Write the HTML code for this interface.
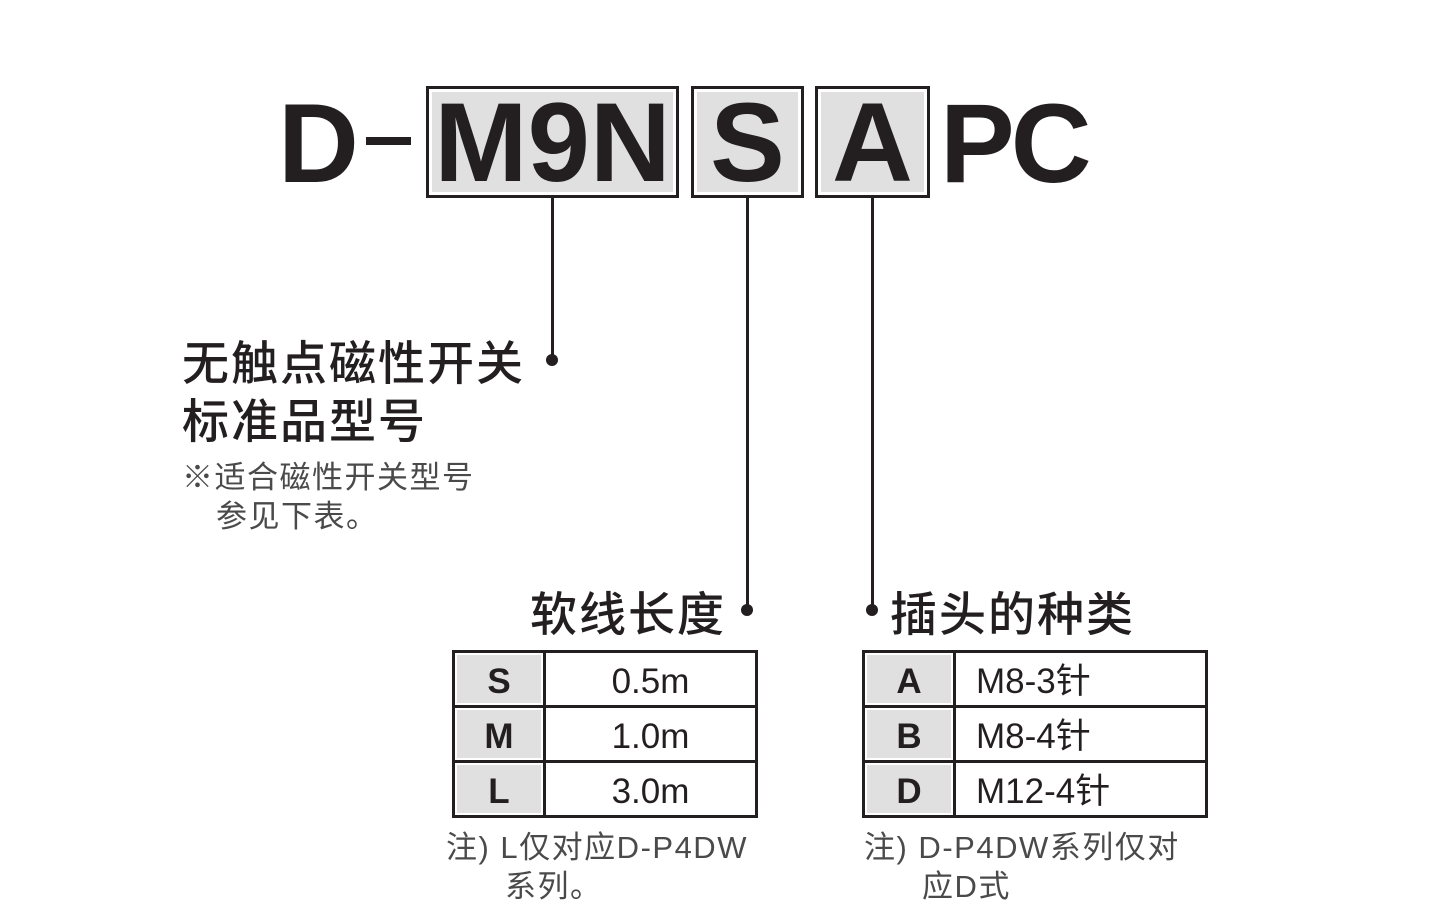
<!DOCTYPE html>
<html><head><meta charset="utf-8"><style>
body{margin:0;width:1440px;height:919px;background:#fff;position:relative;overflow:hidden;font-family:"Liberation Sans","Noto Sans CJK SC",sans-serif;color:#231f20}
.a{position:absolute;white-space:nowrap}
.big{font-weight:bold;font-size:112px;line-height:112px}
.box{position:absolute;border:3px solid #231f20;background:#e0e0e0;box-shadow:inset 0 0 0 3px #fff;box-sizing:border-box;text-align:center}
.vl{position:absolute;width:3px;background:#231f20}
.dot{position:absolute;width:12px;height:12px;border-radius:50%;background:#231f20}
.h{font-size:47px;line-height:56px;letter-spacing:2px;font-weight:500}
.s{font-size:31px;line-height:40px;color:#4a4a4a;letter-spacing:1.5px}
table{position:absolute;border-collapse:collapse;border:3px solid #231f20}
td{border:3px solid #231f20;font-size:35px;padding:5px 0 0 0;height:47px;line-height:47px}
td.k{background:#e0e0e0;font-weight:bold;text-align:center;box-shadow:inset 0 0 0 2px #fff}
</style></head><body>
<div class="a big" style="left:278px;top:88px">D</div>
<div class="a" style="left:366px;top:137px;width:45px;height:8px;background:#231f20"></div>
<div class="box big" style="left:426px;top:86px;width:253px;height:112px;line-height:108px">M9N</div>
<div class="box big" style="left:691px;top:86px;width:113px;height:112px;line-height:108px">S</div>
<div class="box big" style="left:815px;top:86px;width:115px;height:112px;line-height:108px">A</div>
<div class="a big" style="left:940px;top:88px;letter-spacing:-4px">PC</div>

<div class="vl" style="left:551px;top:197px;height:163px"></div>
<div class="dot" style="left:546px;top:354px"></div>
<div class="vl" style="left:746px;top:197px;height:413px"></div>
<div class="dot" style="left:741px;top:604px"></div>
<div class="vl" style="left:871px;top:197px;height:413px"></div>
<div class="dot" style="left:866px;top:604px"></div>

<div class="a h" style="left:182px;top:336px">无触点磁性开关</div>
<div class="a h" style="left:182px;top:394px">标准品型号</div>
<div class="a s" style="left:182px;top:458px">※适合磁性开关型号</div>
<div class="a s" style="left:216px;top:497px">参见下表。</div>

<div class="a h" style="left:530px;top:587px">软线长度</div>
<div class="a h" style="left:890px;top:587px">插头的种类</div>

<table style="left:452px;top:650px;width:306px">
<tr><td class="k" style="width:88px">S</td><td style="text-align:center">0.5m</td></tr>
<tr><td class="k">M</td><td style="text-align:center">1.0m</td></tr>
<tr><td class="k">L</td><td style="text-align:center">3.0m</td></tr>
</table>
<table style="left:862px;top:650px;width:346px">
<tr><td class="k" style="width:88px">A</td><td style="padding-left:20px">M8-3针</td></tr>
<tr><td class="k">B</td><td style="padding-left:20px">M8-4针</td></tr>
<tr><td class="k">D</td><td style="padding-left:20px">M12-4针</td></tr>
</table>

<div class="a s" style="left:446px;top:828px">注) L仅对应D-P4DW</div>
<div class="a s" style="left:505px;top:867px">系列。</div>
<div class="a s" style="left:864px;top:828px">注) D-P4DW系列仅对</div>
<div class="a s" style="left:922px;top:867px">应D式</div>
</body></html>
